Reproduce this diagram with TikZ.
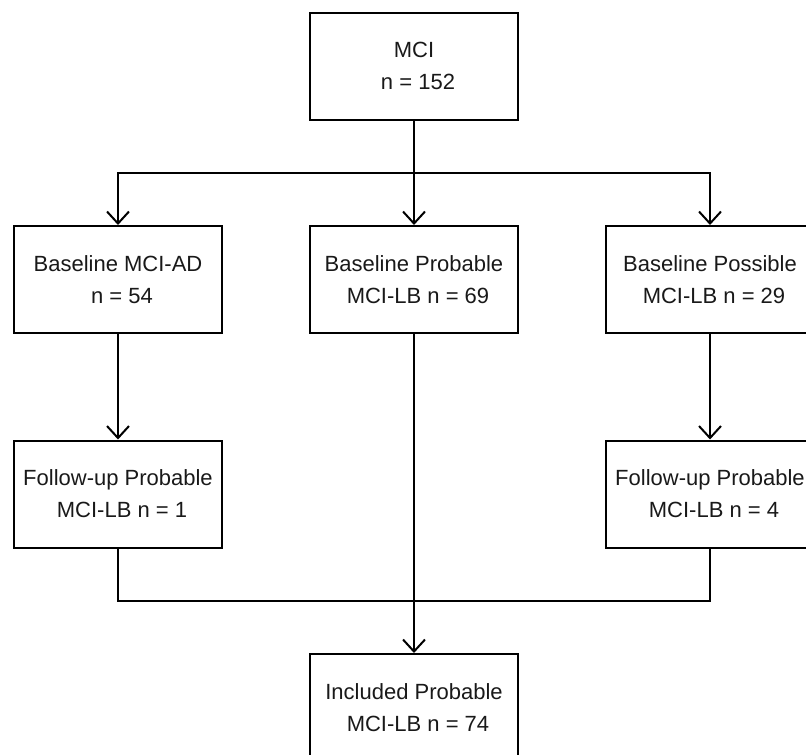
\documentclass[tikz,border=0pt]{standalone}
\usepackage{fontspec}
\setmainfont{Liberation Sans}
\usetikzlibrary{arrows.meta}
\tikzset{
  boxnode/.style={draw=black, line width=2pt, minimum width=208pt, minimum height=107pt,
    inner sep=0pt, align=center, font=\fontsize{22}{32}\selectfont, text=black!90},
  arr/.style={line width=2pt, -{Straight Barb[length=12pt,width=22pt,line width=2pt]}},
  conn/.style={line width=2pt}
}
\begin{document}
\begin{tikzpicture}[x=1pt,y=-1pt]
\useasboundingbox (0,0) rectangle (806,755);
\clip (0,0) rectangle (806,755);
\node[boxnode] (mci) at (414,66) {MCI\\\hspace*{8pt}n = 152};
\node[boxnode] (b1) at (118,279.5) {Baseline MCI-AD\\\hspace*{8pt}n = 54};
\node[boxnode] (b2) at (414,279.5) {Baseline Probable\\\hspace*{8pt}MCI-LB n = 69};
\node[boxnode] (b3) at (710,279.5) {Baseline Possible\\\hspace*{8pt}MCI-LB n = 29};
\node[boxnode] (f1) at (118,494) {Follow-up Probable\\\hspace*{8pt}MCI-LB n = 1};
\node[boxnode] (f3) at (710,494) {Follow-up Probable\\\hspace*{8pt}MCI-LB n = 4};
\node[boxnode] (inc) at (414,707.5) {Included Probable\\\hspace*{8pt}MCI-LB n = 74};
\coordinate (split) at (414,173);
\coordinate (merge) at (414,601);
\draw[conn] (mci.south) -- (split);
\draw[arr] (split) -| (b1.north);
\draw[arr] (split) -| (b3.north);
\draw[arr] (split) -- (b2.north);
\draw[arr] (b1.south) -- (f1.north);
\draw[arr] (b3.south) -- (f3.north);
\draw[conn] (f1.south) |- (merge);
\draw[conn] (f3.south) |- (merge);
\draw[arr] (b2.south) -- (inc.north);
\end{tikzpicture}
\end{document}
